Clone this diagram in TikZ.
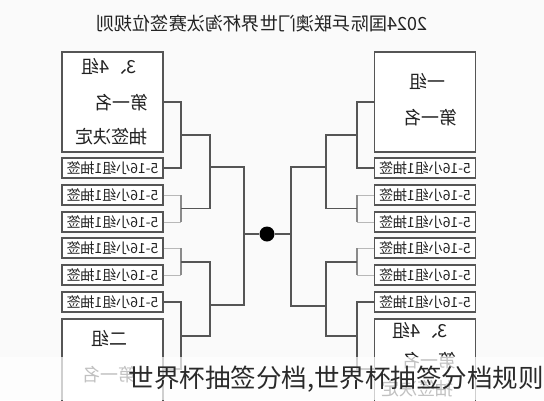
\documentclass[tikz,border=0pt]{standalone}
\usepackage{fontspec}
\usepackage{graphicx}
\setmainfont{Noto Sans CJK SC}
\newcommand{\mirr}[1]{\scalebox{-1}[1]{#1}}
\definecolor{bgc}{HTML}{FAFAFA}
\definecolor{boxc}{HTML}{555555}
\definecolor{linec}{HTML}{555555}
\definecolor{faintc}{HTML}{B8B8B8}
\definecolor{midc}{HTML}{8A8A8A}
\definecolor{txtc}{HTML}{222222}
\definecolor{wmc}{HTML}{2A2A2A}
\begin{document}
\begin{tikzpicture}[x=1pt,y=-1pt,
  bigbox/.style={draw=boxc, line width=1.3pt, fill=white, minimum width=101pt, minimum height=100pt, inner sep=0pt},
  smallbox/.style={draw=boxc, line width=1.3pt, fill=white, minimum width=101pt, minimum height=20pt, inner sep=0pt, text=txtc, font=\fontsize{14}{14}\selectfont},
  bigtxt/.style={inner sep=0pt, text=txtc, font=\fontsize{18}{18}\selectfont},
  link/.style={draw=linec, line width=1.3pt},
  faint/.style={draw=faintc, line width=1pt},
  midlink/.style={draw=midc, line width=1.1pt}
]
\useasboundingbox (0,0) rectangle (544,400);
\clip (0,0) rectangle (544,400);
\fill[bgc] (0,0) rectangle (544,400);

% title
\node[inner sep=0pt, text=txtc, font=\fontsize{18.2}{18.2}\selectfont] (title) at (262,24) {\mirr{2024国际乒联澳门世界杯淘汰赛签位规则}};

% left column
\node[bigbox] (LT) at (112.5,102) {};
\node[bigtxt] (LT1) at (109,66) {\mirr{3、4组}};
\node[bigtxt] (LT2) at (121.5,103) {\mirr{第一名}};
\node[bigtxt] (LT3) at (111.5,137) {\mirr{抽签决定}};
\node[smallbox] (L1) at (112.5,168) {\mirr{5-16小组1抽签}};
\node[smallbox] (L2) at (112.5,195) {\mirr{5-16小组1抽签}};
\node[smallbox] (L3) at (112.5,222) {\mirr{5-16小组1抽签}};
\node[smallbox] (L4) at (112.5,248) {\mirr{5-16小组1抽签}};
\node[smallbox] (L5) at (112.5,275) {\mirr{5-16小组1抽签}};
\node[smallbox] (L6) at (112.5,302) {\mirr{5-16小组1抽签}};
\node[bigbox] (LB) at (112.5,369) {};
\node[bigtxt] (LB1) at (110,338) {\mirr{二组}};
\node[bigtxt] (LB2) at (109,375) {\mirr{第一名}};

% right column
\node[bigbox] (RT) at (425,102) {};
\node[bigtxt] (RT1) at (427.5,81) {\mirr{一组}};
\node[bigtxt] (RT2) at (430.5,118) {\mirr{第一名}};
\node[smallbox] (R1) at (425,168) {\mirr{5-16小组1抽签}};
\node[smallbox] (R2) at (425,195) {\mirr{5-16小组1抽签}};
\node[smallbox] (R3) at (425,222) {\mirr{5-16小组1抽签}};
\node[smallbox] (R4) at (425,248) {\mirr{5-16小组1抽签}};
\node[smallbox] (R5) at (425,275) {\mirr{5-16小组1抽签}};
\node[smallbox] (R6) at (425,302) {\mirr{5-16小组1抽签}};
\node[bigbox] (RB) at (425,369) {};
\node[bigtxt] (RB1) at (420,330) {\mirr{3、4组}};
\node[bigtxt] (RB2) at (429.5,361) {\mirr{第一名}};
\node[bigtxt] (RB3) at (417.5,389) {\mirr{抽签决定}};

% centre dot
\node[circle, fill=black, minimum size=15pt, inner sep=0pt] (D) at (267,234) {};

% left bracket junctions
\coordinate (LA1) at (181,135);
\coordinate (LA2) at (181,208.5);
\coordinate (LA3) at (181,262);
\coordinate (LA4) at (181,336);
\coordinate (LB1j) at (210,167);
\coordinate (LB2j) at (210,305);
\coordinate (LC) at (244,234);

\draw[link] (LT.east) -| (LA1) |- (L1.east);
\draw[faint] (L2.east) -- (L2.east -| LA2);
\draw[faint] (L3.east) -- (L3.east -| LA2);
\draw[midlink] (L2.east -| LA2) -- (L3.east -| LA2);
\draw[faint] (L4.east) -- (L4.east -| LA3);
\draw[faint] (L5.east) -- (L5.east -| LA3);
\draw[midlink] (L4.east -| LA3) -- (L5.east -| LA3);
\draw[link] (L6.east) -| (LA4) |- (LB.east);
\draw[link] (LA1) -| (LB1j) |- (LA2);
\draw[link] (LA3) -| (LB2j) |- (LA4);
\draw[link] (LB1j) -| (LC) |- (LB2j);
\draw[link] (LC) -- (D);

% right bracket junctions
\coordinate (RA1) at (357,135);
\coordinate (RA2) at (357,208.5);
\coordinate (RA3) at (357,262);
\coordinate (RA4) at (357,336);
\coordinate (RB1j) at (326,167);
\coordinate (RB2j) at (326,306);
\coordinate (RC) at (291,234);

\draw[link] (RT.west) -| (RA1) |- (R1.west);
\draw[faint] (R2.west) -- (R2.west -| RA2);
\draw[faint] (R3.west) -- (R3.west -| RA2);
\draw[midlink] (R2.west -| RA2) -- (R3.west -| RA2);
\draw[faint] (R4.west) -- (R4.west -| RA3);
\draw[faint] (R5.west) -- (R5.west -| RA3);
\draw[midlink] (R4.west -| RA3) -- (R5.west -| RA3);
\draw[link] (R6.west) -| (RA4) |- (RB.west);
\draw[link] (RA1) -| (RB1j) |- (RA2);
\draw[link] (RA3) -| (RB2j) |- (RA4);
\draw[link] (RB1j) -| (RC) |- (RB2j);
\draw[link] (D) -- (RC);

% watermark band and text
\fill[white, opacity=0.72] (0,357) rectangle (544,400);
\node[anchor=east, inner sep=0pt, text=wmc, font=\fontsize{25.5}{25.5}\selectfont] (wm) at (544,379) {世界杯抽签分档,世界杯抽签分档规则};
\end{tikzpicture}
\end{document}
